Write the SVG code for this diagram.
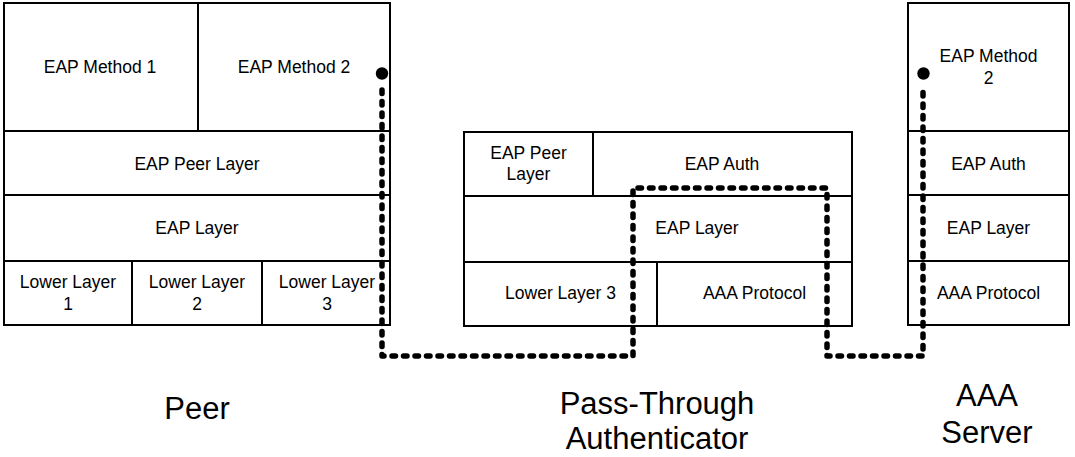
<svg xmlns="http://www.w3.org/2000/svg" width="1075" height="457" viewBox="0 0 1075 457">
<style>
.box{fill:#fff;stroke:#000;stroke-width:2}
.ln{stroke:#000;stroke-width:2;fill:none}
.t{font-family:"Liberation Sans",Arial,sans-serif;font-size:17.5px;fill:#000;text-anchor:middle}
.big{font-family:"Liberation Sans",Arial,sans-serif;font-size:31px;fill:#000;text-anchor:middle}
.dash{fill:none;stroke:#000;stroke-width:5.5;stroke-linecap:round;stroke-linejoin:round;stroke-dasharray:3.5 8}
</style>
<rect width="1075" height="457" fill="#fff"/>
<g id="peer">
<rect class="box" x="4" y="3" width="386" height="322"/>
<path class="ln" d="M198 3V131M4 131H390M4 195H390M4 261H390M132 261V325M262 261V325"/>
<text class="t" x="100" y="73">EAP Method 1</text>
<text class="t" x="294" y="73">EAP Method 2</text>
<text class="t" x="197" y="169.5">EAP Peer Layer</text>
<text class="t" x="197" y="234">EAP Layer</text>
<text class="t" x="68" y="288">Lower Layer</text>
<text class="t" x="68" y="310">1</text>
<text class="t" x="197" y="288">Lower Layer</text>
<text class="t" x="197" y="310">2</text>
<text class="t" x="327" y="288">Lower Layer</text>
<text class="t" x="327" y="310">3</text>
<text class="big" x="197" y="419">Peer</text>
</g>
<g id="authenticator">
<rect class="box" x="464" y="132" width="388" height="194"/>
<path class="ln" d="M593 132V196M464 196H852M464 262H852M657 262V326"/>
<text class="t" x="528.5" y="158.5">EAP Peer</text>
<text class="t" x="528.5" y="180">Layer</text>
<text class="t" x="722" y="170">EAP Auth</text>
<text class="t" x="697" y="234">EAP Layer</text>
<text class="t" x="560.5" y="299">Lower Layer 3</text>
<text class="t" x="754.5" y="299">AAA Protocol</text>
<text class="big" x="657" y="414">Pass-Through</text>
<text class="big" x="657" y="449">Authenticator</text>
</g>
<g id="aaa-server">
<rect class="box" x="908" y="3" width="161" height="322"/>
<path class="ln" d="M908 131H1069M908 195H1069M908 261H1069"/>
<text class="t" x="988.5" y="62">EAP Method</text>
<text class="t" x="988.5" y="84">2</text>
<text class="t" x="988.5" y="170">EAP Auth</text>
<text class="t" x="988.5" y="233.5">EAP Layer</text>
<text class="t" x="988.5" y="298.5">AAA Protocol</text>
<text class="big" x="987" y="406">AAA</text>
<text class="big" x="987" y="443">Server</text>
</g>
<g id="connectors">
<path class="dash" d="M382 90V356H633V188H827V356H923V90"/>
<circle cx="382" cy="73.5" r="6.2" fill="#000"/>
<circle cx="923.5" cy="73.5" r="6.2" fill="#000"/>
</g>
</svg>
